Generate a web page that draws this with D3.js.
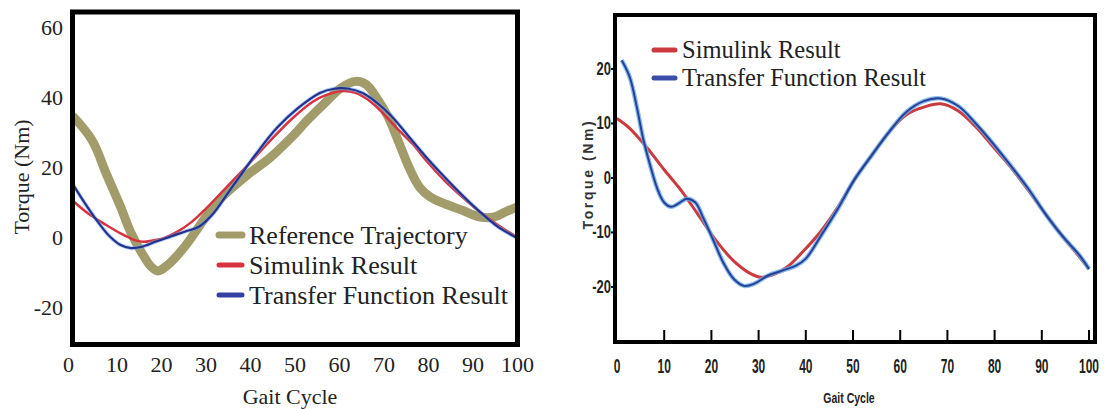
<!DOCTYPE html>
<html>
<head>
<meta charset="utf-8">
<script src="https://cdn.jsdelivr.net/npm/d3@7"></script>
<style>
  body { margin: 0; background: #fff; }
  svg { display: block; }
</style>
</head>
<body>
<div id="chart"></div>
<script>
// ---- data ----
const gaitTicks = [0, 10, 20, 30, 40, 50, 60, 70, 80, 90, 100];
const leftTorqueTicks = [60, 40, 20, 0, -20];
const rightTorqueTicks = [20, 10, 0, -10, -20];

const leftLegend = ["Reference Trajectory", "Simulink Result", "Transfer Function Result"];
const rightLegend = ["Simulink Result", "Transfer Function Result"];

// left panel: [gait %, torque Nm]
const refTrajectory = [[0,35],[4.4,28],[7.6,18.4],[10.8,9],[13.2,1.4],[15.6,-4.2],[17.6,-8],[19.2,-9.3],[21.5,-7.5],[25.2,-2.4],[28.4,3.3],[31.6,9],[34.8,13.2],[39.6,18.4],[44.4,23],[49.2,28.8],[53,34],[57,39],[60.4,43],[63.6,44.8],[66,43.9],[68.4,40],[70.8,35],[73.2,27.8],[75.6,20.3],[78,14.6],[80.4,11.8],[83.6,9.9],[87.6,8],[91.6,6.1],[94.8,6.1],[97.2,7.5],[100,9]];
const leftSimulink = [[0,10.8],[3.6,7],[7.6,3.8],[10.8,1.4],[14,-0.5],[16,-1],[18,-0.6],[20.4,0],[23.6,1.9],[26.8,4.7],[30,8.5],[33.2,12.7],[36.4,17],[39.6,21.2],[44.4,27.8],[49.2,34],[54,39],[57.2,41],[60.4,42],[63.6,41.5],[67,39],[70,35.4],[73.2,31],[76.4,27],[79.6,22],[83.6,16.5],[87.6,11.8],[91.6,7.5],[95.6,3.8],[100,0.3]];
const leftTransfer = [[0,15.6],[2.8,10],[6,4.2],[8.4,0.5],[10.8,-1.9],[13.2,-2.8],[15.6,-2.4],[18.8,-0.9],[22,0.5],[25.2,1.9],[28.4,3.3],[31.6,7],[34.8,12.7],[38,18.4],[41.2,24],[46,31.6],[50.8,37.3],[55.6,41.5],[58.8,42.7],[62,42.7],[65.2,41.5],[68.4,38.7],[71.6,35],[75.6,29],[79.6,23],[83.6,17.5],[87.6,12.3],[91.6,7.5],[95.6,3.3],[100,0]];

// right panel
const rightSimulink = [[0,10.9],[2.7,9.1],[6.4,5.5],[10,1.5],[13.7,-2.4],[17.4,-7],[21,-11.5],[24.7,-15.2],[28.4,-17.6],[30.5,-18.2],[33.5,-17.6],[36.4,-16.1],[39.3,-13.6],[43,-10],[46.7,-5.5],[50.3,-0.3],[54,4.2],[57.7,8.5],[61.3,11.6],[65,13],[68.6,13.6],[72.3,12.3],[76,9.4],[79.6,5.8],[83.3,2.1],[87,-2.1],[90.6,-6.4],[94.3,-10.6],[98,-14.5],[100,-16.7]];
const rightTransfer = [[1,21.6],[2.7,18.5],[4.2,13],[5.6,7],[7.1,2.1],[8.6,-2.1],[10,-4.5],[11.5,-5.3],[13,-4.7],[14.8,-3.8],[16.6,-4.5],[18.1,-7],[20.3,-11.2],[22.5,-15.5],[24.7,-18.5],[26.9,-19.8],[29.1,-19.4],[32,-17.9],[35,-17],[37.9,-16.1],[40,-14.8],[43,-10.9],[46.7,-5.8],[50.3,-0.3],[54,4.2],[57.7,8.5],[61.3,12.1],[65,14.1],[68.6,14.6],[72.3,13.2],[76,10],[79.6,6.4],[83.3,2.4],[87,-1.8],[90.6,-6.4],[94.3,-10.6],[98,-14.2],[100,-16.7]];

const W = 1104, H = 409;
const serif = "'Liberation Serif', 'Times New Roman', serif";
const narrow = "'Liberation Sans Narrow', 'Liberation Sans', Arial, sans-serif";

const svg = d3.select("#chart")
  .append("svg")
  .attr("width", W)
  .attr("height", H);

// ================= left panel =================
const L = { left: 72.5, right: 517.5, top: 12, bottom: 344.5 };
const xL = d3.scaleLinear().domain([0, 100]).range([L.left, L.right]);
const yL = d3.scaleLinear().domain([-30.3, 64.6]).range([L.bottom, L.top]);

svg.append("clipPath").attr("id", "clipL")
  .append("rect")
  .attr("x", L.left).attr("y", L.top)
  .attr("width", L.right - L.left).attr("height", L.bottom - L.top);

const lineL = d3.line()
  .x(d => xL(d[0]))
  .y(d => yL(d[1]))
  .curve(d3.curveCatmullRom.alpha(0.5));

const gL = svg.append("g").attr("clip-path", "url(#clipL)");
gL.append("path").datum(refTrajectory)
  .attr("d", lineL).attr("fill", "none")
  .attr("stroke", "#a29c6b").attr("stroke-width", 9).attr("stroke-linejoin", "round");
gL.append("path").datum(leftSimulink)
  .attr("d", lineL).attr("fill", "none")
  .attr("stroke", "#d6333f").attr("stroke-width", 2.5);
gL.append("path").datum(leftTransfer)
  .attr("d", lineL).attr("fill", "none")
  .attr("stroke", "#6aa6e8").attr("stroke-width", 4).attr("opacity", 0.5);
gL.append("path").datum(leftTransfer)
  .attr("d", lineL).attr("fill", "none")
  .attr("stroke", "#25318f").attr("stroke-width", 2.2);

// box
svg.append("rect")
  .attr("x", L.left).attr("y", L.top)
  .attr("width", L.right - L.left).attr("height", L.bottom - L.top)
  .attr("fill", "none").attr("stroke", "#000").attr("stroke-width", 5);

// tick labels
svg.append("g").selectAll("text")
  .data(gaitTicks)
  .enter().append("text")
  .attr("x", d => xL(d) - (d === 0 ? 4 : 0))
  .attr("y", 372)
  .attr("text-anchor", "middle")
  .attr("font-family", serif).attr("font-size", 22).attr("fill", "#222")
  .text(d => d);

svg.append("g").selectAll("text")
  .data(leftTorqueTicks)
  .enter().append("text")
  .attr("x", 63)
  .attr("y", d => yL(d) + 7)
  .attr("text-anchor", "end")
  .attr("font-family", serif).attr("font-size", 22).attr("fill", "#222")
  .text(d => d);

svg.append("text")
  .attr("x", 290).attr("y", 404)
  .attr("text-anchor", "middle")
  .attr("font-family", serif).attr("font-size", 22).attr("fill", "#222")
  .text("Gait Cycle");

svg.append("text")
  .attr("transform", "translate(29,177) rotate(-90)")
  .attr("text-anchor", "middle")
  .attr("font-family", serif).attr("font-size", 22).attr("fill", "#222")
  .text("Torque (Nm)");

// legend
const legendColorsL = ["#a29c6b", "#d6333f", "#3340a0"];
const legendWidthsL = [7, 5, 5];
const legL = svg.append("g").selectAll("g")
  .data(leftLegend)
  .enter().append("g")
  .attr("transform", (d, i) => "translate(0," + [235, 265, 295][i] + ")");
legL.append("line")
  .attr("x1", 219).attr("x2", 242)
  .attr("stroke", (d, i) => legendColorsL[i])
  .attr("stroke-width", (d, i) => legendWidthsL[i])
  .attr("stroke-linecap", "round");
legL.append("text")
  .attr("x", 249).attr("y", 9)
  .attr("font-family", serif).attr("font-size", 26).attr("fill", "#222")
  .text(d => d);

// ================= right panel =================
const R = { left: 615, right: 1095, top: 15, bottom: 342 };
const xR = d3.scaleLinear().domain([0, 100]).range([617, 1089]);
const yR = d3.scaleLinear().domain([-30.1, 29.9]).range([R.bottom, R.top]);

svg.append("clipPath").attr("id", "clipR")
  .append("rect")
  .attr("x", R.left).attr("y", R.top)
  .attr("width", R.right - R.left).attr("height", R.bottom - R.top);

const lineR = d3.line()
  .x(d => xR(d[0]))
  .y(d => yR(d[1]))
  .curve(d3.curveCatmullRom.alpha(0.5));

const gR = svg.append("g").attr("clip-path", "url(#clipR)");
gR.append("path").datum(rightSimulink)
  .attr("d", lineR).attr("fill", "none")
  .attr("stroke", "#cb3a3e").attr("stroke-width", 3);
gR.append("path").datum(rightTransfer)
  .attr("d", lineR).attr("fill", "none")
  .attr("stroke", "#69aee6").attr("stroke-width", 4.5).attr("opacity", 0.8);
gR.append("path").datum(rightTransfer)
  .attr("d", lineR).attr("fill", "none")
  .attr("stroke", "#283f98").attr("stroke-width", 2);

// box
svg.append("rect")
  .attr("x", R.left).attr("y", R.top)
  .attr("width", R.right - R.left).attr("height", R.bottom - R.top)
  .attr("fill", "none").attr("stroke", "#000").attr("stroke-width", 4);

// x ticks (inside, up from the bottom)
svg.append("g").selectAll("line")
  .data(gaitTicks.slice(1))
  .enter().append("line")
  .attr("x1", d => xR(d)).attr("x2", d => xR(d))
  .attr("y1", R.bottom).attr("y2", R.bottom - 12)
  .attr("stroke", "#000").attr("stroke-width", 2);

svg.append("g").selectAll("text")
  .data(gaitTicks)
  .enter().append("text")
  .attr("transform", d => "translate(" + xR(d) + ",373) scale(0.6,1)")
  .attr("text-anchor", "middle")
  .attr("font-family", narrow).attr("font-weight", "bold").attr("font-size", 20).attr("fill", "#222")
  .text(d => d);

// y ticks
svg.append("g").selectAll("line")
  .data(rightTorqueTicks)
  .enter().append("line")
  .attr("x1", R.left - 4).attr("x2", R.left)
  .attr("y1", d => yR(d)).attr("y2", d => yR(d))
  .attr("stroke", "#000").attr("stroke-width", 2);

svg.append("g").selectAll("text")
  .data(rightTorqueTicks)
  .enter().append("text")
  .attr("transform", d => "translate(611," + (yR(d) + 6) + ") scale(0.72,1)")
  .attr("text-anchor", "end")
  .attr("font-family", narrow).attr("font-weight", "bold").attr("font-size", 18).attr("fill", "#222")
  .text(d => d);

svg.append("text")
  .attr("transform", "translate(849,403) scale(0.75,1)")
  .attr("text-anchor", "middle")
  .attr("font-family", narrow).attr("font-weight", "bold").attr("font-size", 14).attr("fill", "#222")
  .text("Gait Cycle");

svg.append("text")
  .attr("transform", "translate(593,174) rotate(-90)")
  .attr("text-anchor", "middle")
  .attr("font-family", "'Liberation Sans', Arial, sans-serif")
  .attr("font-weight", "bold").attr("font-size", 14).attr("letter-spacing", 2.6).attr("fill", "#333")
  .text("Torque (Nm)");

// legend
const legendColorsR = ["#cb3a3e", "#3a4ea8"];
const legR = svg.append("g").selectAll("g")
  .data(rightLegend)
  .enter().append("g")
  .attr("transform", (d, i) => "translate(0," + [50, 78][i] + ")");
legR.append("line")
  .attr("x1", 654).attr("x2", 675)
  .attr("stroke", (d, i) => legendColorsR[i])
  .attr("stroke-width", 5)
  .attr("stroke-linecap", "round");
legR.append("text")
  .attr("x", 682).attr("y", 8)
  .attr("font-family", serif).attr("font-size", 24.5).attr("fill", "#222")
  .text(d => d);
</script>
</body>
</html>
